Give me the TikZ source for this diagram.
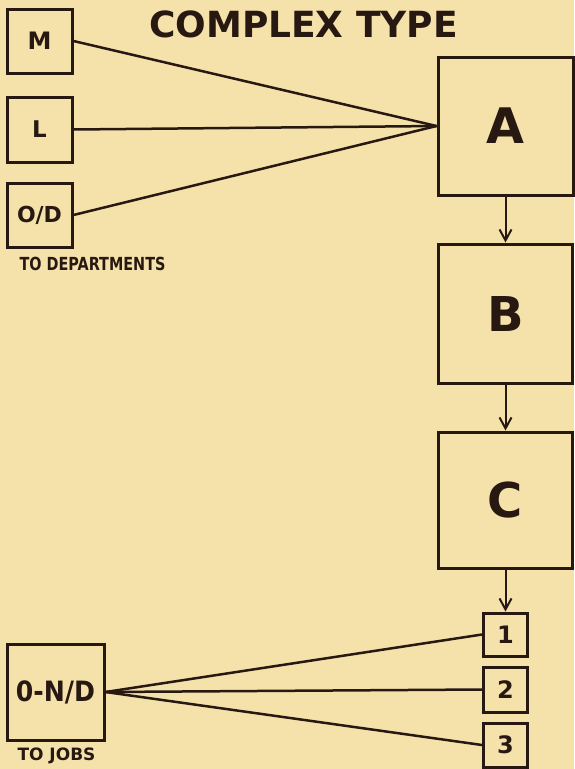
\documentclass[tikz,border=0pt]{standalone}
\usepackage{fontspec}
\setmainfont{DejaVu Sans}
\usetikzlibrary{arrows.meta}
\definecolor{paper}{RGB}{245,226,170}
\definecolor{ink}{RGB}{40,24,18}
\newcommand{\fs}[1]{\fontsize{#1}{#1}\selectfont\bfseries}
\tikzset{
  box/.style={draw=ink, line width=3pt, rectangle, inner sep=0pt, text=ink},
  wire/.style={draw=ink, line width=2.5pt},
  flow/.style={draw=ink, line width=2pt, -{Straight Barb[length=11pt,width=12pt,line width=2pt]}},
  caption/.style={text=ink, inner sep=0pt}
}
\begin{document}
\begin{tikzpicture}[x=1pt,y=-1pt]
\fill[paper] (0,0) rectangle (574,769);
\useasboundingbox (0,0) rectangle (574,769);

\node[caption] (title) at (303.5,24) {\fs{36}COMPLEX TYPE};

\node[box, minimum width=65pt, minimum height=64pt] (M) at (39.5,41) {\fs{24}M};
\node[box, minimum width=65pt, minimum height=65pt] (L) at (39.5,129.5) {\fs{23}L};
\node[box, minimum width=65pt, minimum height=64pt] (OD) at (39.5,215) {\fs{22}O/D};
\node[caption] (dept) at (92.5,264) {\scalebox{0.8}[1]{\fs{18}TO DEPARTMENTS}};

\node[box, minimum width=135pt, minimum height=138pt] (A) at (505.5,126) {\fs{49}A};
\node[box, minimum width=134pt, minimum height=139pt] (B) at (505.5,313.5) {\fs{48}B};
\node[box, minimum width=134pt, minimum height=136pt] (C) at (505.5,500) {\fs{48}C};

\node[box, minimum width=44pt, minimum height=43pt] (n1) at (505.5,634.5) {\fs{24}1};
\node[box, minimum width=44pt, minimum height=45pt] (n2) at (505.5,689.5) {\fs{24}2};
\node[box, minimum width=44pt, minimum height=44pt] (n3) at (505.5,745) {\fs{24}3};

\node[box, minimum width=97pt, minimum height=96pt] (OND) at (55.5,692) {\scalebox{0.9}[1]{\fs{28}0-N/D}};
\node[caption] (jobs) at (56.5,756) {\fs{17}TO JOBS};

\draw[wire] (M.east) -- (A.west);
\draw[wire] (L.east) -- (A.west);
\draw[wire] (OD.east) -- (A.west);

\draw[flow] (A.south) -- (B.north);
\draw[flow] (B.south) -- (C.north);
\draw[flow] (C.south) -- (n1.north);

\draw[wire] (OND.east) -- (n1.west);
\draw[wire] (OND.east) -- (n2.west);
\draw[wire] (OND.east) -- (n3.west);
\end{tikzpicture}
\end{document}
